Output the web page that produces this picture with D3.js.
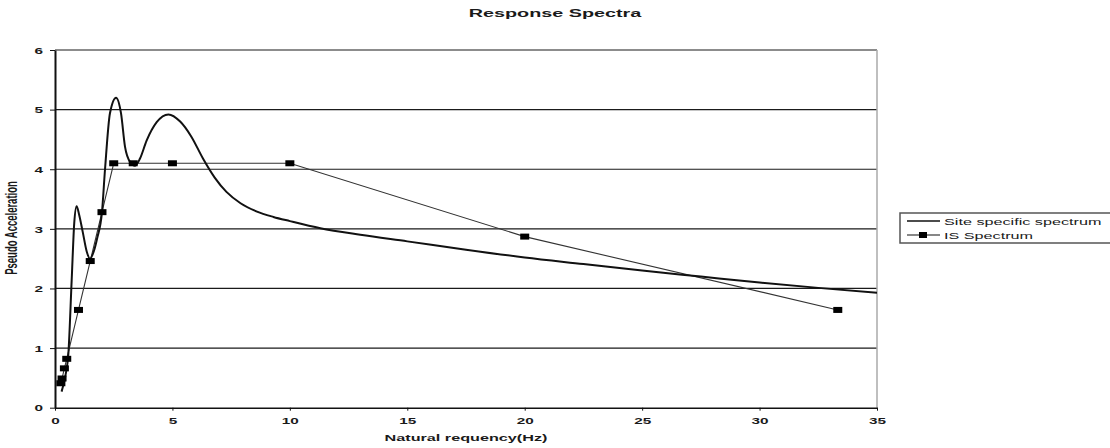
<!DOCTYPE html>
<html>
<head>
<meta charset="utf-8">
<script src="https://cdn.jsdelivr.net/npm/d3@7"></script>
<style>
  html, body { margin: 0; padding: 0; background: #fff; }
  svg { display: block; }
  text { font-family: "Liberation Sans", Arial, sans-serif; fill: #1a1a1a; }
</style>
</head>
<body>
<svg id="chart" width="1110" height="448"></svg>
<script>
// ---- data ----
const title = "Response Spectra";
const xAxisTitle = "Natural requency(Hz)";
const yAxisTitle = "Pseudo Acceleration";
const xTicks = [0, 5, 10, 15, 20, 25, 30, 35];
const yTicks = [0, 1, 2, 3, 4, 5, 6];
const seriesNames = ["Site specific spectrum", "IS Spectrum"];

// Site specific spectrum (smoothed line)
const siteFreq = [0.28, 0.45, 0.57, 0.71, 0.82, 0.92, 1.02, 1.18, 1.35, 1.49, 1.65, 1.8, 2.0, 2.13, 2.34, 2.6, 2.81, 2.98, 3.2, 3.41, 3.62, 3.9, 4.33, 4.83, 5.33, 5.8, 6.3, 6.8, 7.3, 7.9, 8.6, 9.3, 10, 11.3, 13, 15, 17.5, 20, 22.5, 25, 27.5, 30, 32.5, 35];
const siteAcc  = [0.27, 0.55, 0.91, 2.14, 3.1, 3.38, 3.25, 2.95, 2.62, 2.5, 2.62, 2.85, 3.28, 4.0, 4.94, 5.2, 4.94, 4.38, 4.12, 4.06, 4.18, 4.48, 4.79, 4.92, 4.8, 4.55, 4.18, 3.86, 3.62, 3.43, 3.29, 3.2, 3.13, 3.01, 2.9, 2.79, 2.65, 2.52, 2.41, 2.3, 2.2, 2.1, 2.01, 1.93];

// IS Spectrum (straight line with square markers)
const isFreq = [0.25, 0.3, 0.4, 0.5, 1.0, 1.5, 2.0, 2.5, 3.33, 5.0, 10.0, 20.0, 33.33];
const isAcc  = [0.41, 0.49, 0.66, 0.82, 1.64, 2.46, 3.28, 4.1, 4.1, 4.1, 4.1, 2.87, 1.64];

// ---- layout ----
const SX = 1.8; // horizontal stretch of the original lettering
const pLeft = 55, pRight = 877, pTop = 50, pBottom = 407.7;

const svg = d3.select("#chart");
const x = d3.scaleLinear().domain([0, 35]).range([pLeft, pRight]);
const y = d3.scaleLinear().domain([0, 6]).range([pBottom, pTop]);

function stretchedText(g, tx, ty, str, opts) {
  return g.append("text")
    .attr("transform", `translate(${tx},${ty}) scale(${SX},1)`)
    .attr("text-anchor", opts.anchor || "middle")
    .attr("font-size", opts.size)
    .attr("font-weight", opts.weight || "normal")
    .text(str);
}

// title
stretchedText(svg, 555, 17, title, {size: 11, weight: "bold"});

// gridlines
svg.append("g").selectAll("line").data(yTicks.filter(d => d > 0)).join("line")
  .attr("x1", pLeft).attr("x2", pRight)
  .attr("y1", d => y(d)).attr("y2", d => y(d))
  .attr("stroke", "#1a1a1a").attr("stroke-width", 1.2);

// right border
svg.append("line").attr("x1", pRight).attr("x2", pRight).attr("y1", pTop).attr("y2", pBottom)
  .attr("stroke", "#aaa").attr("stroke-width", 1.5);

// y axis
const yAxis = svg.append("g").attr("transform", `translate(${pLeft},0)`)
  .call(d3.axisLeft(y).tickValues(yTicks).tickFormat(d3.format("d")).tickSize(5).tickSizeOuter(0));
yAxis.select(".domain").attr("stroke", "#111").attr("stroke-width", 2);
yAxis.selectAll(".tick line").attr("stroke", "#111");
yAxis.selectAll(".tick text")
  .attr("x", null).attr("dy", null)
  .attr("transform", "translate(-12,3.2) scale(" + SX + ",1)")
  .attr("text-anchor", "end")
  .attr("font-size", 8.5).attr("font-weight", "bold")
  .attr("font-family", null).attr("fill", "#1a1a1a");

// x axis
const xAxis = svg.append("g").attr("transform", `translate(0,${pBottom})`)
  .call(d3.axisBottom(x).tickValues(xTicks).tickFormat(d3.format("d")).tickSize(3).tickSizeOuter(0));
xAxis.select(".domain").attr("stroke", "#111").attr("stroke-width", 1.5);
xAxis.selectAll(".tick line").attr("stroke", "#111");
xAxis.selectAll(".tick text")
  .attr("y", null).attr("dy", null)
  .attr("transform", "translate(0,16.5) scale(" + SX + ",1)")
  .attr("text-anchor", "middle")
  .attr("font-size", 8.5).attr("font-weight", "bold")
  .attr("font-family", null).attr("fill", "#1a1a1a");

// axis titles
stretchedText(svg, (pLeft + pRight) / 2, 441, xAxisTitle, {size: 9, weight: "bold"});
svg.append("text")
  .attr("transform", "translate(17,228) rotate(-90) scale(1," + SX + ")")
  .attr("text-anchor", "middle")
  .attr("font-size", 9.5).attr("font-weight", "bold")
  .text(yAxisTitle);

// series
const siteData = siteFreq.map((f, i) => [f, siteAcc[i]]);
const isData = isFreq.map((f, i) => [f, isAcc[i]]);

svg.append("path").datum(isData)
  .attr("fill", "none").attr("stroke", "#333").attr("stroke-width", 1.1)
  .attr("d", d3.line().x(d => x(d[0])).y(d => y(d[1])));

svg.append("path").datum(siteData)
  .attr("fill", "none").attr("stroke", "#111").attr("stroke-width", 2)
  .attr("d", d3.line().curve(d3.curveMonotoneX).x(d => x(d[0])).y(d => y(d[1])));

svg.append("g").selectAll("rect").data(isData).join("rect")
  .attr("x", d => x(d[0]) - 4.5).attr("y", d => y(d[1]) - 3)
  .attr("width", 9).attr("height", 6).attr("fill", "#000");

// legend
const lg = svg.append("g");
lg.append("rect").attr("x", 900).attr("y", 213).attr("width", 220).attr("height", 30)
  .attr("fill", "#fff").attr("stroke", "#555").attr("stroke-width", 1.5);
lg.append("line").attr("x1", 907).attr("x2", 940).attr("y1", 221).attr("y2", 221)
  .attr("stroke", "#111").attr("stroke-width", 1.5);
lg.append("line").attr("x1", 907).attr("x2", 940).attr("y1", 235).attr("y2", 235)
  .attr("stroke", "#111").attr("stroke-width", 1.2);
lg.append("rect").attr("x", 919).attr("y", 232).attr("width", 8).attr("height", 6).attr("fill", "#000");
stretchedText(lg, 944, 224.5, seriesNames[0], {size: 9, anchor: "start"});
stretchedText(lg, 944, 238.5, seriesNames[1], {size: 9, anchor: "start"});
</script>
</body>
</html>
